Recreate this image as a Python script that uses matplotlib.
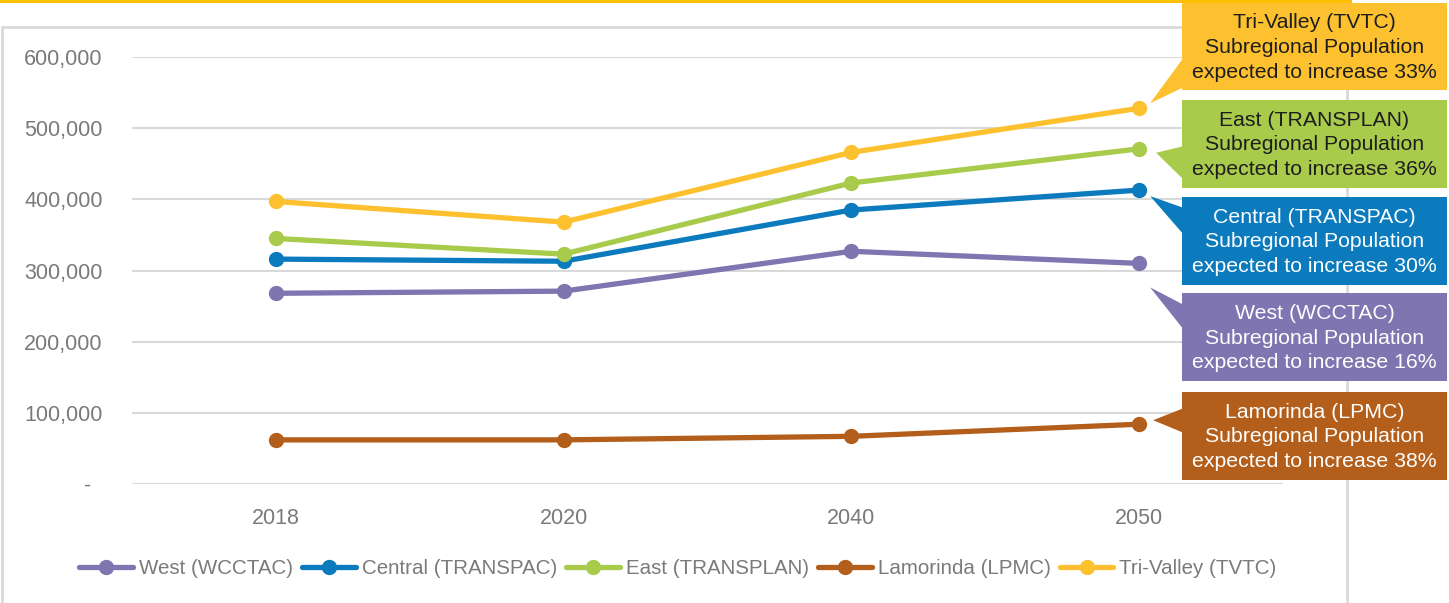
import matplotlib
matplotlib.use("Agg")
import matplotlib.pyplot as plt
from matplotlib.patches import Rectangle, Polygon
from matplotlib.lines import Line2D
from matplotlib.ticker import FuncFormatter

# data
years = ["2018", "2020", "2040", "2050"]
west = [268000, 271000, 327000, 310000]
central = [316000, 313000, 385000, 413000]
east = [345000, 323000, 423000, 471000]
lamorinda = [62000, 62000, 67000, 84000]
trivalley = [397000, 368000, 466000, 528000]

series_names = ["West (WCCTAC)", "Central (TRANSPAC)", "East (TRANSPLAN)",
                "Lamorinda (LPMC)", "Tri-Valley (TVTC)"]
series_values = [west, central, east, lamorinda, trivalley]
growth_pct = [16, 30, 36, 38, 33]

colors = ["#7E75B1", "#0B7BBD", "#A9CB4B", "#B35E1A", "#FDC130"]
text_colors = ["white", "white", "#1e1e1e", "white", "#1e1e1e"]

W, H = 1449, 603
plt.rcParams['font.family'] = ['Liberation Sans', 'DejaVu Sans']

fig = plt.figure(figsize=(W / 100, H / 100), dpi=100)


def fx(x):
    return x / W


def fy(y):
    return 1 - y / H


# frame and yellow top rule
fig.patches.append(Rectangle((fx(2), fy(640)), fx(1345), fy(27) - fy(640),
                             transform=fig.transFigure, fill=False,
                             edgecolor="#D9D9D9", lw=2))
fig.add_artist(Line2D([0, fx(1350)], [fy(1), fy(1)], transform=fig.transFigure,
                      color="#FFC000", lw=2.2))

ax = fig.add_axes([fx(132), fy(484), fx(1283) - fx(132), fy(57) - fy(484)])
x = range(len(years))
for name, vals, c in zip(series_names, series_values, colors):
    ax.plot(x, vals, color=c, lw=3.8, marker="o", markersize=10, label=name,
            solid_capstyle="round")

ax.set_xlim(-0.5, len(years) - 0.5)
ax.set_ylim(0, 600000)
ax.set_yticks(range(0, 600001, 100000))
ax.yaxis.set_major_formatter(FuncFormatter(
    lambda v, p: "-  " if v == 0 else f"{int(v):,}"))
ax.set_xticks(list(x))
ax.set_xticklabels(years)
ax.grid(axis="y", color="#D9D9D9", lw=1.5)
ax.set_axisbelow(True)
for s in ax.spines.values():
    s.set_visible(False)
ax.tick_params(axis="both", length=0, labelsize=15.5, labelcolor="#7A7A7A")
ax.tick_params(axis="y", pad=21)
ax.tick_params(axis="x", pad=17)

# callout boxes
boxes = {4: (3, 90), 2: (100, 188), 1: (197, 285), 0: (293, 381), 3: (392, 480)}
tip_off = {4: (11, -5), 2: (17, 4), 1: (11, 6), 0: (11, 24), 3: (14, -4)}
bases = {4: (57, 87), 2: (146, 180), 1: (208, 235), 0: (305, 330), 3: (408, 433)}
bx0, bx1 = 1182, 1447

fig.canvas.draw()
for i, (top, bot) in boxes.items():
    c = colors[i]
    # tip near the 2050 marker
    px, py = ax.transData.transform((len(years) - 1, series_values[i][-1]))
    dx, dy = tip_off[i]
    tip = ((px + dx) / W, (py - dy) / H)
    b0, b1 = bases[i]
    fig.patches.append(Polygon([tip, (fx(bx0 + 2), fy(b0)), (fx(bx0 + 2), fy(b1))],
                               closed=True, transform=fig.transFigure,
                               facecolor=c, edgecolor="none"))
    fig.patches.append(Rectangle((fx(bx0), fy(bot)), fx(bx1 - bx0), fy(top) - fy(bot),
                                 transform=fig.transFigure, facecolor=c,
                                 edgecolor="none"))
    txt = f"{series_names[i]}\nSubregional Population\nexpected to increase {growth_pct[i]}%"
    fig.text(fx((bx0 + bx1) / 2), fy((top + bot) / 2 + 1), txt, ha="center",
             va="center", fontsize=15.3, color=text_colors[i], linespacing=1.37)

leg = fig.legend(loc="center", bbox_to_anchor=(fx(678), fy(569)), ncol=5,
                 frameon=False, handlelength=2.6, handletextpad=0.3,
                 columnspacing=0.45, prop={"size": 14.8})
for t in leg.get_texts():
    t.set_color("#7A7A7A")

fig.savefig("out.png", dpi=100)
